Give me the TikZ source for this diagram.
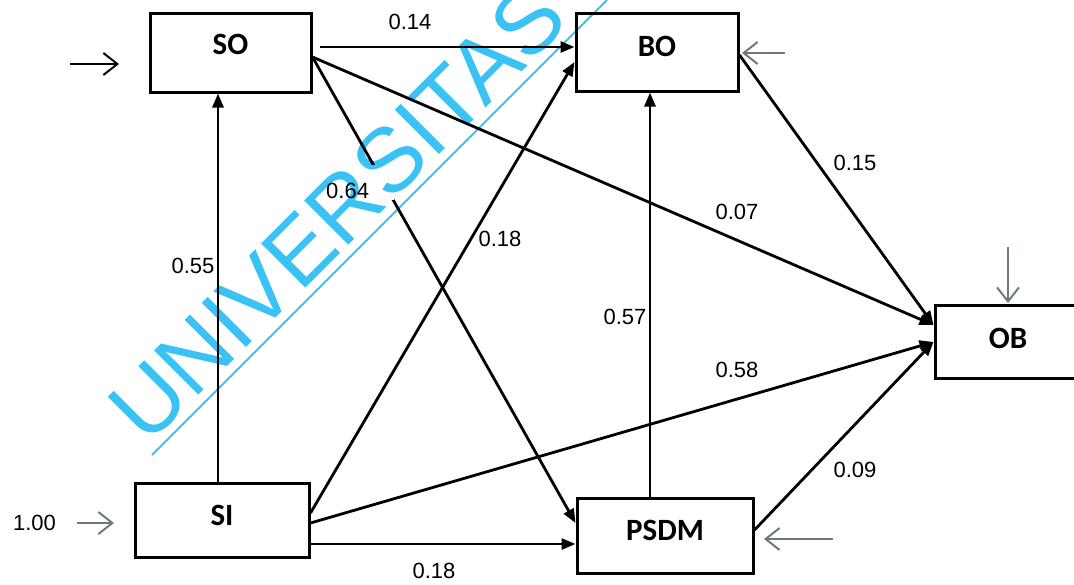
\documentclass[tikz,border=0pt]{standalone}
\usepackage{fontspec}
\setmainfont{Liberation Sans}
\newfontfamily\boxfont{Carlito}
\usetikzlibrary{arrows.meta,calc}
\definecolor{errgray}{RGB}{108,122,128}
\definecolor{wmcyan}{RGB}{58,194,245}

\begin{document}
\begin{tikzpicture}[x=1pt,y=-1pt,
  boxlbl/.style={font=\boxfont\bfseries\fontsize{31}{31}\selectfont, inner sep=0pt},
  var/.style 2 args={draw=black, line width=3pt, rectangle, inner sep=0pt,
    label={[boxlbl,yshift=#2]center:#1}},
  pathcon/.style={line width=2.8pt, -{Triangle[length=14pt,width=11pt]}},
  lbl/.style={font=\fontsize{22}{22}\selectfont, inner sep=0pt},
  errarrow/.style={line width=2pt, errgray, -{Straight Barb[length=14pt,width=22pt,line width=2pt]}},
  wm/.style={wmcyan, font=\fontsize{91}{91}\selectfont, inner sep=0pt, rotate=45, anchor=base west},
]
\useasboundingbox (0,0) rectangle (1074,584);

% variables
\node[var={SO}{8.5pt}, minimum width=161pt, minimum height=79pt] (SO) at (230.5,52.5) {};
\node[var={BO}{6pt}, minimum width=162pt, minimum height=78pt] (BO) at (657,52) {};
\node[var={SI}{5pt}, minimum width=174pt, minimum height=74pt] (SI) at (222,520) {};
\node[var={PSDM}{5.5pt}, minimum width=176pt, minimum height=75pt] (PSDM) at (665,535.5) {};
\node[var={OB}{3.5pt}, minimum width=146pt, minimum height=73pt] (OB) at (1008,341.5) {};

% structural paths
\draw[pathcon] ([xshift=7pt,yshift=5.5pt]SO.east) -- ([yshift=5pt]BO.west);
\draw[pathcon] ([yshift=-4.5pt]SO.east) -- ([yshift=12.5pt]PSDM.west);
\draw[pathcon] ([yshift=-4.5pt]SO.east) -- ([yshift=16.5pt]OB.west);
\draw[pathcon] ([xshift=-4pt]SI.north) -- ([xshift=-4pt]SI.north |- SO.south);
\draw[pathcon] ([yshift=7pt]SI.east) -- ([yshift=-10pt]BO.west);
\draw[pathcon] ([yshift=-3pt]SI.east) -- ([yshift=-0.5pt]OB.west);
\draw[pathcon] ([yshift=-24pt]SI.east) -- ([yshift=-24pt]SI.east -| PSDM.west);
\draw[pathcon] ([xshift=-15pt]PSDM.north) -- ([xshift=-15pt]PSDM.north |- BO.south);
\draw[pathcon] ([yshift=-3pt]BO.east) -- ([yshift=16.5pt]OB.west);
\draw[pathcon] ([yshift=5.5pt]PSDM.east) -- ([yshift=-0.5pt]OB.west);

% coefficients
\node[lbl] (c1) at (410,22) {0.14};
\node[lbl, fill=white, anchor=base west, text height=33pt, text depth=2pt, text width=68pt, align=left] (c2) at (326,198) {0.64};
\node[lbl] (c3) at (737,212) {0.07};
\node[lbl] (c4) at (193,266) {0.55};
\node[lbl] (c5) at (500,239) {0.18};
\node[lbl] (c6) at (625,317) {0.57};
\node[lbl] (c7) at (855,163) {0.15};
\node[lbl] (c8) at (737,370) {0.58};
\node[lbl] (c9) at (855,470) {0.09};
\node[lbl] (c10) at (434,571) {0.18};
\node[lbl] (c11) at (34.5,522.5) {1.00};

% residual arrows
\coordinate (eSOa) at (70,64);   \coordinate (eSOb) at (119,64);
\coordinate (eBOa) at (785,53);  \coordinate (eBOb) at (742,53);
\coordinate (eOBa) at (1008,247);\coordinate (eOBb) at (1008,303);
\coordinate (eSIa) at (77,523);  \coordinate (eSIb) at (114,523);
\coordinate (ePSa) at (833,539); \coordinate (ePSb) at (764,539);
\draw[errarrow, draw=black] (eSOa) -- (eSOb);
\draw[errarrow] (eBOa) -- (eBOb);
\draw[errarrow] (eOBa) -- (eOBb);
\draw[errarrow] (eSIa) -- (eSIb);
\draw[errarrow] (ePSa) -- (ePSb);

% watermark
\begin{scope}[blend mode=multiply]
\node[wm] (wmtext) at (147,447) {UNIVERSITAS};
\coordinate (wmA) at (152,455);
\coordinate (wmB) at (607,0);
\draw[wmcyan, line width=2pt] (wmA) -- (wmB);
\end{scope}
\end{tikzpicture}
\end{document}
